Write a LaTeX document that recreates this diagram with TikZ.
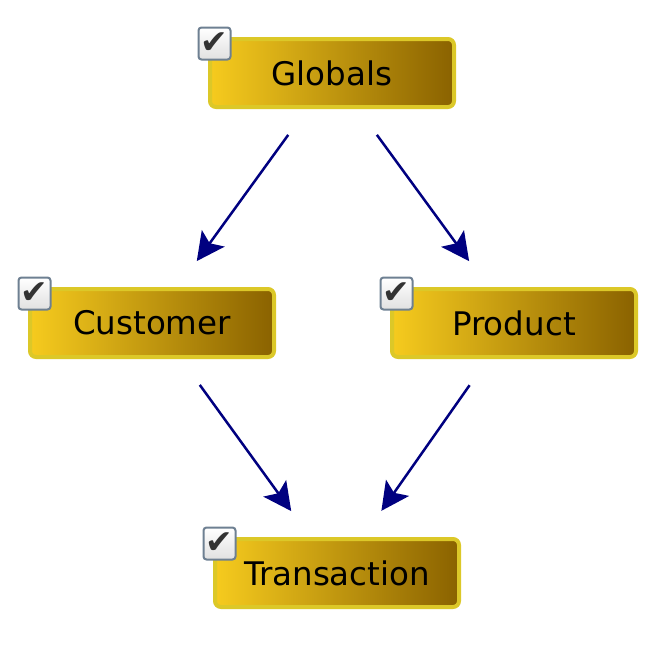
\documentclass[tikz,border=0pt]{standalone}
\usepackage{fontspec}
\setmainfont{DejaVu Sans}
\usetikzlibrary{positioning,arrows.meta}
\definecolor{boxrim}{RGB}{220,200,40}
\definecolor{boxlight}{RGB}{246,203,30}
\definecolor{boxdark}{RGB}{138,98,0}
\definecolor{linkblue}{RGB}{0,0,128}
\definecolor{chkrim}{RGB}{110,128,146}

\begin{document}
\begin{tikzpicture}[x=1pt,y=1pt,on grid,
    entity/.style={draw=boxrim,line width=4pt,rounded corners=6pt,
      left color=boxlight,right color=boxdark,
      minimum width=244pt,minimum height=68pt,
      font=\fontsize{32.5}{38}\selectfont},
    tick/.style={draw=chkrim,line width=2pt,rounded corners=3pt,
      top color=white,bottom color=black!12,minimum size=32pt,
      inner sep=0pt,text=black!80,font=\fontsize{33}{33}\selectfont},
    link/.style={draw=linkblue,line width=2.5pt,
      -{Stealth[length=28pt,width=28pt,inset=6pt]},
      shorten <=32pt,shorten >=32pt}]
    \fill[white] (0,0) rectangle (669,-645);
    \useasboundingbox (0,0) rectangle (669,-645);

    \node[entity] (glob) at (332,-73) {Globals};
    \node[entity] (cust) [below left=250pt and 180pt of glob] {Customer};
    \node[entity] (prod) [below right=250pt and 182pt of glob] {Product};
    \node[entity] (trans) [below right=250pt and 185pt of cust] {Transaction};

    \node[tick] (glob_chk) at ([shift={(6.5,-6.5)}]glob.north west) {✔};
    \node[tick] (cust_chk) at ([shift={(6.5,-6.5)}]cust.north west) {✔};
    \node[tick] (prod_chk) at ([shift={(6.5,-6.5)}]prod.north west) {✔};
    \node[tick] (trans_chk) at ([shift={(6.5,-6.5)}]trans.north west) {✔};

    \draw[link] ([xshift=-25pt]glob.south) -- ([xshift=26pt]cust.north);
    \draw[link] ([xshift=26pt]glob.south) -- ([xshift=-26pt]prod.north);
    \draw[link] ([xshift=29pt]cust.south) -- ([xshift=-27pt]trans.north);
    \draw[link] ([xshift=-26pt]prod.south) -- ([xshift=26pt]trans.north);
\end{tikzpicture}
\end{document}
